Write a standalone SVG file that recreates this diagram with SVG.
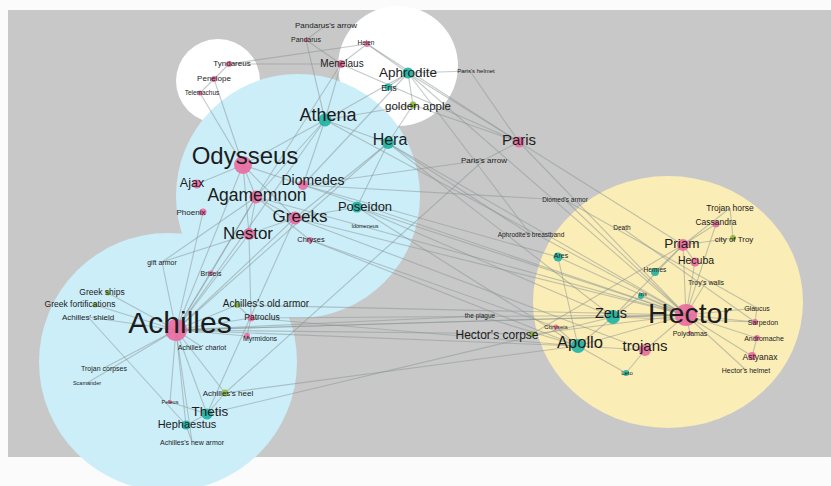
<svg xmlns="http://www.w3.org/2000/svg" width="831" height="486" viewBox="0 0 831 486">
<style>
.t{font-family:"Liberation Sans",Arial,sans-serif;fill:#1c1c1c;text-anchor:middle}
.p{fill:#ea6aa0;opacity:.9}
.c{fill:#1db3a2;opacity:.9}
.g{fill:#8fb53c;opacity:.9}
#edges line{stroke:#8a9494;stroke-width:1.1;opacity:.5}
</style>
<rect width="831" height="486" fill="#fbfbfb"/>
<rect x="8" y="10" width="823" height="447" fill="#c8c8c8"/>
<g id="groups">
<circle cx="218" cy="81" r="42" fill="#ffffff"/>
<circle cx="398" cy="66" r="60" fill="#ffffff"/>
<circle cx="298" cy="196" r="122" fill="#cbeef9"/>
<circle cx="168" cy="362" r="129" fill="#cbeef9"/>
<ellipse cx="668" cy="302" rx="135" ry="126" fill="#fbedb6"/>
</g>
<g id="edges">
<line x1="176" y1="330" x2="256" y2="197"/><line x1="176" y1="330" x2="243" y2="165"/><line x1="176" y1="330" x2="249" y2="234"/>
<line x1="176" y1="330" x2="325" y2="120"/><line x1="176" y1="330" x2="251" y2="318"/><line x1="176" y1="330" x2="207" y2="414"/>
<line x1="176" y1="330" x2="186" y2="425"/><line x1="176" y1="330" x2="225" y2="393"/><line x1="176" y1="330" x2="170" y2="402"/>
<line x1="176" y1="330" x2="192" y2="442"/><line x1="176" y1="330" x2="237" y2="305"/><line x1="176" y1="330" x2="247" y2="336"/>
<line x1="176" y1="330" x2="202" y2="347"/><line x1="176" y1="330" x2="211" y2="273"/><line x1="176" y1="330" x2="162" y2="262"/>
<line x1="176" y1="330" x2="108" y2="293"/><line x1="176" y1="330" x2="95" y2="305"/><line x1="176" y1="330" x2="88" y2="317"/>
<line x1="176" y1="330" x2="104" y2="368"/><line x1="176" y1="330" x2="87" y2="383"/><line x1="176" y1="330" x2="686" y2="315"/>
<line x1="176" y1="330" x2="532" y2="334"/><line x1="176" y1="330" x2="578" y2="346"/><line x1="176" y1="330" x2="203" y2="212"/>
<line x1="176" y1="330" x2="295" y2="218"/><line x1="176" y1="330" x2="388" y2="143"/><line x1="176" y1="330" x2="613" y2="317"/>
<line x1="176" y1="330" x2="480" y2="316"/>
<line x1="207" y1="414" x2="186" y2="425"/><line x1="207" y1="414" x2="170" y2="402"/><line x1="207" y1="414" x2="613" y2="317"/>
<line x1="207" y1="414" x2="225" y2="393"/><line x1="207" y1="414" x2="295" y2="218"/>
<line x1="186" y1="425" x2="192" y2="442"/><line x1="186" y1="425" x2="88" y2="317"/>
<line x1="251" y1="318" x2="686" y2="315"/><line x1="251" y1="318" x2="237" y2="305"/><line x1="251" y1="318" x2="578" y2="346"/>
<line x1="251" y1="318" x2="247" y2="336"/><line x1="251" y1="318" x2="249" y2="234"/>
<line x1="237" y1="305" x2="686" y2="315"/><line x1="225" y1="393" x2="578" y2="346"/><line x1="225" y1="393" x2="484" y2="160"/>
<line x1="243" y1="165" x2="256" y2="197"/><line x1="243" y1="165" x2="325" y2="120"/><line x1="243" y1="165" x2="303" y2="185"/>
<line x1="243" y1="165" x2="197" y2="184"/><line x1="243" y1="165" x2="249" y2="234"/><line x1="243" y1="165" x2="214" y2="79"/>
<line x1="243" y1="165" x2="200" y2="93"/><line x1="243" y1="165" x2="295" y2="218"/>
<line x1="256" y1="197" x2="249" y2="234"/><line x1="256" y1="197" x2="341" y2="64"/><line x1="256" y1="197" x2="310" y2="240"/>
<line x1="256" y1="197" x2="295" y2="218"/><line x1="256" y1="197" x2="325" y2="120"/><line x1="256" y1="197" x2="211" y2="273"/>
<line x1="256" y1="197" x2="686" y2="315"/><line x1="256" y1="197" x2="162" y2="262"/>
<line x1="249" y1="234" x2="295" y2="218"/><line x1="249" y1="234" x2="162" y2="262"/>
<line x1="303" y1="185" x2="325" y2="120"/><line x1="303" y1="185" x2="408" y2="73"/><line x1="303" y1="185" x2="686" y2="315"/>
<line x1="303" y1="185" x2="558" y2="257"/><line x1="303" y1="185" x2="565" y2="200"/>
<line x1="295" y1="218" x2="357" y2="207"/><line x1="295" y1="218" x2="645" y2="350"/><line x1="295" y1="218" x2="686" y2="315"/>
<line x1="295" y1="218" x2="388" y2="143"/>
<line x1="357" y1="207" x2="613" y2="317"/><line x1="357" y1="207" x2="686" y2="315"/><line x1="357" y1="207" x2="388" y2="143"/>
<line x1="357" y1="207" x2="578" y2="346"/>
<line x1="325" y1="120" x2="388" y2="143"/><line x1="325" y1="120" x2="686" y2="315"/><line x1="325" y1="120" x2="408" y2="73"/>
<line x1="325" y1="120" x2="413" y2="105"/><line x1="325" y1="120" x2="306" y2="40"/><line x1="325" y1="120" x2="341" y2="64"/>
<line x1="388" y1="143" x2="613" y2="317"/><line x1="388" y1="143" x2="413" y2="105"/><line x1="388" y1="143" x2="531" y2="235"/>
<line x1="388" y1="143" x2="686" y2="315"/>
<line x1="408" y1="73" x2="519" y2="142"/><line x1="408" y1="73" x2="367" y2="44"/><line x1="408" y1="73" x2="413" y2="105"/>
<line x1="408" y1="73" x2="388" y2="87"/><line x1="408" y1="73" x2="470" y2="71"/><line x1="408" y1="73" x2="531" y2="235"/>
<line x1="408" y1="73" x2="686" y2="315"/>
<line x1="341" y1="64" x2="367" y2="44"/><line x1="341" y1="64" x2="519" y2="142"/><line x1="341" y1="64" x2="306" y2="40"/>
<line x1="341" y1="64" x2="229" y2="64"/>
<line x1="367" y1="44" x2="519" y2="142"/><line x1="367" y1="44" x2="229" y2="64"/><line x1="306" y1="40" x2="326" y2="25"/>
<line x1="519" y1="142" x2="484" y2="160"/><line x1="519" y1="142" x2="686" y2="315"/><line x1="519" y1="142" x2="683" y2="245"/>
<line x1="519" y1="142" x2="470" y2="71"/><line x1="519" y1="142" x2="413" y2="105"/>
<line x1="214" y1="79" x2="200" y2="93"/><line x1="214" y1="79" x2="229" y2="64"/>
<line x1="686" y1="315" x2="532" y2="334"/><line x1="532" y1="334" x2="683" y2="245"/>
<line x1="480" y1="316" x2="578" y2="346"/><line x1="310" y1="240" x2="578" y2="346"/><line x1="310" y1="240" x2="556" y2="327"/>
<line x1="686" y1="315" x2="683" y2="245"/><line x1="686" y1="315" x2="695" y2="262"/><line x1="686" y1="315" x2="757" y2="338"/>
<line x1="686" y1="315" x2="752" y2="356"/><line x1="686" y1="315" x2="755" y2="322"/><line x1="686" y1="315" x2="757" y2="308"/>
<line x1="686" y1="315" x2="746" y2="370"/><line x1="686" y1="315" x2="645" y2="350"/><line x1="686" y1="315" x2="613" y2="317"/>
<line x1="686" y1="315" x2="578" y2="346"/><line x1="686" y1="315" x2="690" y2="333"/><line x1="686" y1="315" x2="706" y2="282"/>
<line x1="686" y1="315" x2="641" y2="296"/><line x1="686" y1="315" x2="716" y2="224"/>
<line x1="683" y1="245" x2="695" y2="262"/><line x1="683" y1="245" x2="716" y2="224"/><line x1="683" y1="245" x2="730" y2="208"/>
<line x1="683" y1="245" x2="733" y2="238"/><line x1="683" y1="245" x2="613" y2="317"/><line x1="683" y1="245" x2="655" y2="272"/>
<line x1="613" y1="317" x2="578" y2="346"/><line x1="613" y1="317" x2="641" y2="296"/><line x1="613" y1="317" x2="755" y2="322"/>
<line x1="578" y1="346" x2="645" y2="350"/><line x1="578" y1="346" x2="626" y2="373"/><line x1="578" y1="346" x2="558" y2="257"/>
<line x1="578" y1="346" x2="556" y2="327"/><line x1="645" y1="350" x2="626" y2="373"/>
<line x1="755" y1="322" x2="757" y2="308"/><line x1="622" y1="228" x2="755" y2="322"/><line x1="558" y1="257" x2="686" y2="315"/>
<line x1="730" y1="208" x2="733" y2="238"/><line x1="565" y1="200" x2="686" y2="315"/><line x1="565" y1="200" x2="757" y2="308"/>
<line x1="757" y1="338" x2="752" y2="356"/><line x1="484" y1="160" x2="303" y2="185"/>
</g>
<g id="n-tyndareus"><circle class="p" cx="229" cy="64" r="3"/><text class="t" x="232" y="65.8" font-size="8">Tyndareus</text></g>
<g id="n-penelope"><circle class="p" cx="214" cy="79" r="3"/><text class="t" x="214" y="80.8" font-size="8">Penelope</text></g>
<g id="n-telemachus"><circle class="p" cx="200" cy="93" r="2.5"/><text class="t" x="202" y="95.3" font-size="6.5">Telemachus</text></g>
<g id="n-pandarus-arrow"><text class="t" x="326" y="27.8" font-size="8">Pandarus's arrow</text></g>
<g id="n-pandarus"><circle class="p" cx="306" cy="40" r="2"/><text class="t" x="306" y="41.5" font-size="7">Pandarus</text></g>
<g id="n-helen"><circle class="p" cx="367" cy="44" r="3"/><text class="t" x="366" y="45.3" font-size="6.5">Helen</text></g>
<g id="n-menelaus"><circle class="p" cx="341" cy="64" r="4"/><text class="t" x="342" y="66.5" font-size="10">Menelaus</text></g>
<g id="n-aphrodite"><circle class="c" cx="408" cy="73" r="5.5"/><text class="t" x="408" y="76.7" font-size="13.5">Aphrodite</text></g>
<g id="n-paris-helmet"><text class="t" x="476" y="73.1" font-size="6">Paris's helmet</text></g>
<g id="n-eris"><circle class="c" cx="388" cy="87" r="3.5"/><text class="t" x="389" y="91" font-size="9">Eris</text></g>
<g id="n-golden-apple"><circle class="g" cx="413" cy="105" r="3.5"/><text class="t" x="418" y="110" font-size="11.5">golden apple</text></g>
<g id="n-athena"><circle class="c" cx="325" cy="120" r="6.5"/><text class="t" x="328" y="121.3" font-size="18">Athena</text></g>
<g id="n-hera"><circle class="c" cx="388" cy="143" r="6"/><text class="t" x="390" y="144.6" font-size="16">Hera</text></g>
<g id="n-odysseus"><circle class="p" cx="243" cy="165" r="9"/><text class="t" x="245" y="164.4" font-size="24">Odysseus</text></g>
<g id="n-diomedes"><circle class="p" cx="303" cy="185" r="5"/><text class="t" x="313" y="184.9" font-size="14">Diomedes</text></g>
<g id="n-ajax"><circle class="p" cx="197" cy="184" r="4.5"/><text class="t" x="192" y="187.4" font-size="12.5">Ajax</text></g>
<g id="n-agamemnon"><circle class="p" cx="256" cy="197" r="6.5"/><text class="t" x="257" y="201.1" font-size="17.5">Agamemnon</text></g>
<g id="n-phoenix"><circle class="p" cx="203" cy="212" r="3.5"/><text class="t" x="191" y="214.8" font-size="8">Phoenix</text></g>
<g id="n-greeks"><circle class="p" cx="295" cy="218" r="6.5"/><text class="t" x="300" y="222" font-size="17">Greeks</text></g>
<g id="n-poseidon"><circle class="c" cx="357" cy="207" r="5.5"/><text class="t" x="365" y="210.6" font-size="13">Poseidon</text></g>
<g id="n-idomeneus"><text class="t" x="365" y="228" font-size="5.5">Idomeneus</text></g>
<g id="n-nestor"><circle class="p" cx="249" cy="234" r="6"/><text class="t" x="248" y="239" font-size="17">Nestor</text></g>
<g id="n-chryses"><circle class="p" cx="310" cy="240" r="3"/><text class="t" x="311" y="241.6" font-size="7.5">Chryses</text></g>
<g id="n-paris"><circle class="p" cx="519" cy="142" r="5.5"/><text class="t" x="519" y="145.3" font-size="15">Paris</text></g>
<g id="n-paris-arrow"><text class="t" x="484" y="162.8" font-size="8">Paris's arrow</text></g>
<g id="n-diomed-armor"><text class="t" x="565" y="202.3" font-size="6.5">Diomed's armor</text></g>
<g id="n-breastband"><text class="t" x="531" y="237.3" font-size="6.5">Aphrodite's breastband</text></g>
<g id="n-plague"><text class="t" x="480" y="318.3" font-size="6.5">the plague</text></g>
<g id="n-hector-corpse"><circle class="g" cx="532" cy="334" r="3"/><text class="t" x="497" y="339.2" font-size="12">Hector's corpse</text></g>
<g id="n-death"><text class="t" x="622" y="230.3" font-size="6.5">Death</text></g>
<g id="n-ares"><circle class="c" cx="558" cy="257" r="4.5"/><text class="t" x="561" y="257.5" font-size="7">Ares</text></g>
<g id="n-hermes"><circle class="c" cx="655" cy="272" r="4"/><text class="t" x="655" y="272.3" font-size="6.5">Hermes</text></g>
<g id="n-trojan-horse"><text class="t" x="730" y="211" font-size="8.5">Trojan horse</text></g>
<g id="n-cassandra"><circle class="p" cx="716" cy="224" r="3.5"/><text class="t" x="716" y="225" font-size="8.5">Cassandra</text></g>
<g id="n-city-of-troy"><circle class="g" cx="733" cy="238" r="3"/><text class="t" x="734" y="241.8" font-size="8">city of Troy</text></g>
<g id="n-priam"><circle class="p" cx="683" cy="245" r="6"/><text class="t" x="682" y="247.7" font-size="13.5">Priam</text></g>
<g id="n-hecuba"><circle class="p" cx="695" cy="262" r="4.5"/><text class="t" x="696" y="263.7" font-size="10.5">Hecuba</text></g>
<g id="n-troy-walls"><text class="t" x="706" y="284.5" font-size="7">Troy's walls</text></g>
<g id="n-iris"><circle class="c" cx="641" cy="296" r="3"/><text class="t" x="643" y="296" font-size="6">Iris</text></g>
<g id="n-hector"><circle class="p" cx="686" cy="315" r="11"/><text class="t" x="690" y="323" font-size="28.5">Hector</text></g>
<g id="n-zeus"><circle class="c" cx="613" cy="317" r="7"/><text class="t" x="611" y="318" font-size="14.5">Zeus</text></g>
<g id="n-chryseis"><circle class="p" cx="556" cy="327" r="2.5"/><text class="t" x="556" y="329" font-size="6">Chryseis</text></g>
<g id="n-polydamas"><circle class="p" cx="690" cy="333" r="2"/><text class="t" x="690" y="335.5" font-size="7">Polydamas</text></g>
<g id="n-apollo"><circle class="c" cx="578" cy="346" r="7"/><text class="t" x="580" y="347.8" font-size="16.5">Apollo</text></g>
<g id="n-trojans"><circle class="p" cx="645" cy="350" r="6"/><text class="t" x="645" y="351.2" font-size="15">trojans</text></g>
<g id="n-glaucus"><text class="t" x="757" y="310.5" font-size="7">Glaucus</text></g>
<g id="n-sarpedon"><circle class="p" cx="755" cy="322" r="3"/><text class="t" x="763" y="324.5" font-size="7">Sarpedon</text></g>
<g id="n-andromache"><circle class="p" cx="757" cy="338" r="3"/><text class="t" x="764" y="340.5" font-size="7">Andromache</text></g>
<g id="n-astyanax"><circle class="p" cx="752" cy="356" r="4"/><text class="t" x="760" y="360" font-size="8.5">Astyanax</text></g>
<g id="n-hector-helmet"><text class="t" x="746" y="372.5" font-size="7">Hector's helmet</text></g>
<g id="n-leto"><circle class="c" cx="626" cy="373" r="3"/><text class="t" x="627" y="375" font-size="6">Leto</text></g>
<g id="n-gift-armor"><text class="t" x="162" y="264.5" font-size="7">gift armor</text></g>
<g id="n-briseis"><circle class="p" cx="211" cy="273" r="2.5"/><text class="t" x="211" y="275.5" font-size="7">Briseis</text></g>
<g id="n-greek-ships"><circle class="g" cx="108" cy="293" r="2.5"/><text class="t" x="102" y="295" font-size="8.5">Greek ships</text></g>
<g id="n-greek-fortifications"><circle class="g" cx="95" cy="305" r="2.5"/><text class="t" x="80" y="307" font-size="8.5">Greek fortifications</text></g>
<g id="n-achilles-shield"><text class="t" x="88" y="319.8" font-size="8">Achilles' shield</text></g>
<g id="n-achilles"><circle class="p" cx="176" cy="330" r="11"/><text class="t" x="180" y="332.5" font-size="30">Achilles</text></g>
<g id="n-old-armor"><circle class="g" cx="237" cy="305" r="3"/><text class="t" x="266" y="306.5" font-size="10">Achilles's old armor</text></g>
<g id="n-patroclus"><circle class="p" cx="251" cy="318" r="3.5"/><text class="t" x="262" y="320" font-size="8.5">Patroclus</text></g>
<g id="n-myrmidons"><circle class="p" cx="247" cy="336" r="3"/><text class="t" x="260" y="340.5" font-size="7">Myrmidons</text></g>
<g id="n-chariot"><text class="t" x="202" y="349.5" font-size="7">Achilles' chariot</text></g>
<g id="n-trojan-corpses"><text class="t" x="104" y="370.5" font-size="7">Trojan corpses</text></g>
<g id="n-scamander"><text class="t" x="87" y="385" font-size="5.5">Scamander</text></g>
<g id="n-heel"><circle class="g" cx="225" cy="393" r="3.5"/><text class="t" x="228" y="395.8" font-size="8">Achilles's heel</text></g>
<g id="n-peleus"><circle class="p" cx="170" cy="402" r="2"/><text class="t" x="170" y="404" font-size="5.5">Peleus</text></g>
<g id="n-thetis"><circle class="c" cx="207" cy="414" r="5.5"/><text class="t" x="210" y="415.7" font-size="13.5">Thetis</text></g>
<g id="n-hephaestus"><circle class="c" cx="186" cy="425" r="4.5"/><text class="t" x="187" y="427.8" font-size="11">Hephaestus</text></g>
<g id="n-new-armor"><text class="t" x="192" y="444.5" font-size="7">Achilles's new armor</text></g>
</svg>
